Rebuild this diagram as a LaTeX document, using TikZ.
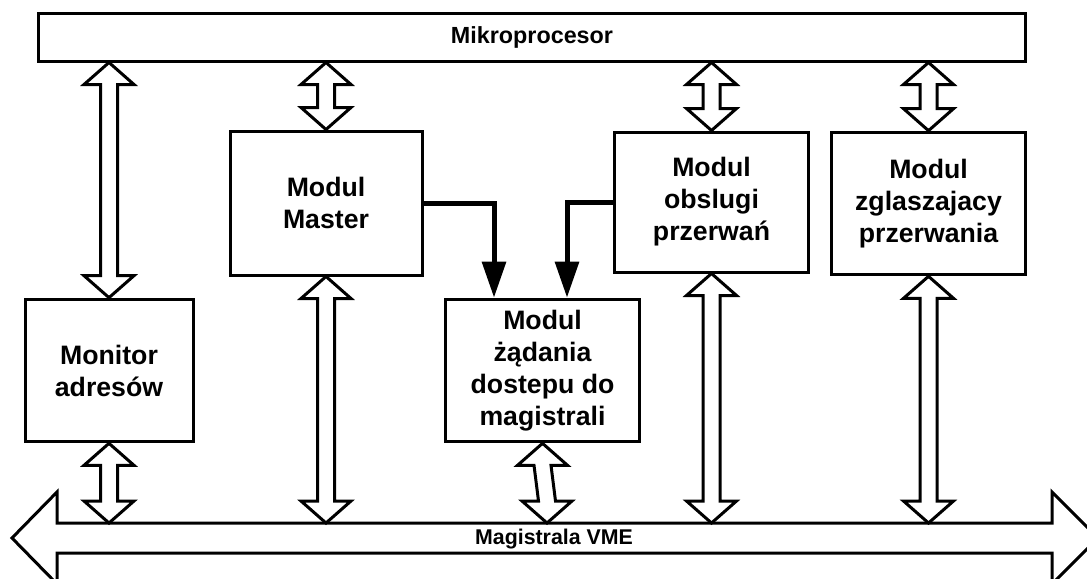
\documentclass[tikz,border=0pt]{standalone}
\usepackage{fontspec}
\setmainfont{Liberation Sans}
\usetikzlibrary{arrows.meta,calc}

% hollow two-headed bus arrow from #1 (top) to #2 (bottom)
\newcommand{\hollowarrow}[2]{%
  \draw[hollow] (#1) -- ($(#1)+(25,22)$) -- ($(#1)+(8.5,22)$)
    -- ($(#2)+(8.5,-22)$) -- ($(#2)+(25,-22)$) -- (#2)
    -- ($(#2)+(-25,-22)$) -- ($(#2)+(-8.5,-22)$)
    -- ($(#1)+(-8.5,22)$) -- ($(#1)+(-25,22)$) -- cycle;}

\begin{document}
\begin{tikzpicture}[x=0.75pt,y=-0.75pt,
  box/.style={draw,line width=2.25pt,inner sep=0pt,align=center,
              font=\bfseries\fontsize{20}{24}\selectfont},
  hollow/.style={draw,line width=2.25pt,fill=white,line join=miter},
  ctrl/.style={line width=3.75pt,-{Triangle[length=27pt,width=17.5pt]}}]

  \useasboundingbox (0,0) rectangle (1087,578);

  % processor bar across the top
  \node[box,minimum width=740pt,minimum height=36pt,
        font=\bfseries\fontsize{17.5}{20}\selectfont] (mp) at (532,37) {Mikroprocesor};

  % modules
  \node[box,minimum width=126pt,minimum height=107pt] (mon) at (109,370.5) {Monitor\\adresów};
  \node[box,minimum width=144pt,minimum height=108pt] (mas) at (326,203) {Modul\\Master};
  \node[box,minimum width=145pt,minimum height=107pt] (req) at (542.5,370.5)
        {Modul\\żądania\\dostepu do\\magistrali};
  \node[box,minimum width=145pt,minimum height=105pt] (obs) at (711.5,202) {Modul\\obslugi\\przerwań};
  \node[box,minimum width=145pt,minimum height=107pt] (zgl) at (928.5,203.5)
        {Modul\\zglaszajacy\\przerwania};

  % VME bus
  \draw[hollow] (12,538) -- (57,492) -- (57,523) -- (1052,523) -- (1052,492)
    -- (1098,538) -- (1052,584) -- (1052,553) -- (57,553) -- (57,584) -- cycle;
  \node[font=\bfseries\fontsize{16}{18}\selectfont] (vme) at (554,539) {Magistrala VME};
  \coordinate (bus) at (557,523);
  \coordinate (reqbus) at ($(req.south |- bus)+(4.5,0)$);

  % data paths
  \foreach \a/\b in {mp.south -| mon.north/mon.north, mon.south/mon.south |- bus,
                     mp.south -| mas.north/mas.north, mas.south/mas.south |- bus,
                     req.south/reqbus,
                     mp.south -| obs.north/obs.north, obs.south/obs.south |- bus,
                     mp.south -| zgl.north/zgl.north, zgl.south/zgl.south |- bus}
    \hollowarrow{\a}{\b};

  % bus requests
  \draw[ctrl] (mas.east) -| ($(req.north)+(-48.5,0)$);
  \draw[ctrl] (obs.west) -| ($(req.north)+(24.5,0)$);

\end{tikzpicture}
\end{document}
